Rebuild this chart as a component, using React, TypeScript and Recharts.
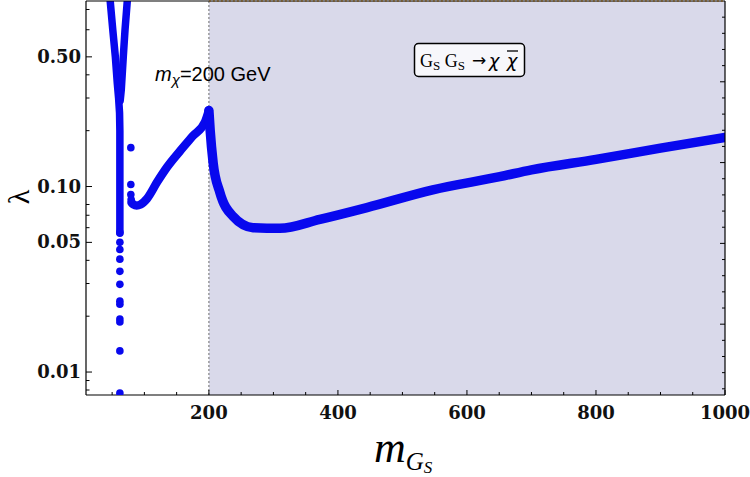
import { ComposedChart, Line, Scatter, XAxis, YAxis, ReferenceArea, ReferenceLine } from 'recharts';

// resonance at m_h/2: left and right arms of the V
const armLeftX = [47, 51, 55, 58, 60, 61.5, 62, 62, 62, 62];
const armLeftL = [1.0, 0.7, 0.5, 0.36, 0.3, 0.25, 0.2, 0.12, 0.08, 0.056];
const armRightX = [73.5, 70, 67.3, 64.2, 62.5];
const armRightL = [1.0, 0.7, 0.5, 0.333, 0.29];

// sparse points below the resonance column
const tailX = [62, 62, 62, 62, 62, 62, 62, 62, 62, 62, 62, 62];
const tailL = [0.0566, 0.05, 0.0458, 0.0406, 0.0349, 0.0297, 0.0241, 0.0232, 0.0193, 0.0186, 0.013, 0.0077];

// isolated points near 78 GeV
const strayX = [79, 79, 79, 79.5];
const strayL = [0.162, 0.1025, 0.0906, 0.085];

// rising branch up to m_chi
const riseX = [80, 83, 88, 94, 104, 120, 135, 155, 175, 194, 200];
const riseL = [0.082, 0.08, 0.079, 0.08, 0.086, 0.106, 0.127, 0.155, 0.187, 0.223, 0.257];

// branch above m_chi (shaded region)
const highX = [200, 202, 206.6, 217, 237.5, 268.5, 310, 372, 445, 547, 651, 700, 800, 900, 1000];
const highL = [0.257, 0.2, 0.134, 0.093, 0.069, 0.06, 0.0595, 0.0665, 0.077, 0.096, 0.113, 0.123, 0.14, 0.161, 0.184];

const xTicks = [50, 100, 150, 200, 250, 300, 350, 400, 450, 500, 550, 600, 650, 700, 750, 800, 850, 900, 950, 1000];
const xMajor = [200, 400, 600, 800, 1000];
const yTicks = [0.008, 0.009, 0.01, 0.02, 0.03, 0.04, 0.05, 0.06, 0.07, 0.08, 0.1, 0.2, 0.3, 0.4, 0.5, 0.7, 0.9];
const yMajor = [0.01, 0.05, 0.1, 0.5];
const yMajorText = ['0.01', '0.05', '0.10', '0.50'];
const rightTicks = [1, 2, 3, 4, 5, 6, 7, 8, 9, 10, 11, 12, 13, 14, 15, 16, 17, 18, 19, 20, 21, 22, 23, 24];
const rightMajor = [5, 10, 15, 20];

const zip = (xs: number[], ls: number[]) => xs.map((x, i) => ({ x, y: ls[i] }));

const BLUE = '#0808ee';
const SHADE = '#d9d9ea';
const TICK_FONT = '"DejaVu Serif", serif';

const PLOT_LEFT = 86;
const PLOT_RIGHT = 725;
const PLOT_TOP = 1;
const PLOT_BOTTOM = 395;

function BottomTick(props: any) {
  const { x, payload } = props;
  const major = xMajor.includes(payload.value);
  return (
    <g>
      <line x1={x} x2={x} y1={PLOT_BOTTOM} y2={PLOT_BOTTOM - (major ? 5 : 3)} stroke="#000" />
      {major && (
        <text x={x} y={PLOT_BOTTOM + 24} textAnchor="middle" fontFamily={TICK_FONT} fontWeight="bold" fontSize={18} fill="#111">
          {payload.value}
        </text>
      )}
    </g>
  );
}

function TopTick(props: any) {
  const { x, payload } = props;
  const major = xMajor.includes(payload.value);
  return <line x1={x} x2={x} y1={PLOT_TOP} y2={PLOT_TOP + (major ? 5 : 3)} stroke="#000" />;
}

function LeftTick(props: any) {
  const { y, payload } = props;
  const idx = yMajor.indexOf(payload.value);
  return (
    <g>
      <line x1={PLOT_LEFT} x2={PLOT_LEFT + (idx >= 0 ? 6 : 3.5)} y1={y} y2={y} stroke="#000" />
      {idx >= 0 && (
        <text x={81} y={y + 6} textAnchor="end" fontFamily={TICK_FONT} fontWeight="bold" fontSize={18} fill="#111">
          {yMajorText[idx]}
        </text>
      )}
    </g>
  );
}

function RightTick(props: any) {
  const { y, payload } = props;
  const major = rightMajor.includes(payload.value);
  return <line x1={PLOT_RIGHT} x2={PLOT_RIGHT - (major ? 5 : 3)} y1={y} y2={y} stroke="#000" />;
}

const dotShape = (p: any) => <circle cx={p.cx} cy={p.cy} r={3.8} fill={BLUE} />;

export default function App() {
  return (
    <div style={{ position: 'absolute', left: 0, top: 0, width: 750, height: 477, background: '#fff' }}>
      <ComposedChart width={750} height={477} margin={{ top: 0, right: 0, bottom: 0, left: 0 }}>
        <XAxis
          xAxisId="b"
          dataKey="x"
          type="number"
          domain={[9.5, 1000]}
          allowDataOverflow
          ticks={xTicks}
          interval={0}
          tick={(p: any) => <BottomTick {...p} />}
          tickLine={false}
          axisLine={{ stroke: '#000', strokeWidth: 1.2 }}
          height={82}
        />
        <XAxis
          xAxisId="t"
          orientation="top"
          type="number"
          domain={[9.5, 1000]}
          allowDataOverflow
          ticks={xTicks}
          interval={0}
          tick={(p: any) => <TopTick {...p} />}
          tickLine={false}
          axisLine={{ stroke: '#000', strokeWidth: 1.2 }}
          height={1}
        />
        <YAxis
          yAxisId="l"
          type="number"
          scale="log"
          domain={[0.00752, 1]}
          allowDataOverflow
          ticks={yTicks}
          interval={0}
          tick={(p: any) => <LeftTick {...p} />}
          tickLine={false}
          axisLine={{ stroke: '#000', strokeWidth: 1.2 }}
          width={86}
        />
        <YAxis
          yAxisId="r"
          orientation="right"
          type="number"
          domain={[0.617, 25]}
          allowDataOverflow
          ticks={rightTicks}
          interval={0}
          tick={(p: any) => <RightTick {...p} />}
          tickLine={false}
          axisLine={{ stroke: '#000', strokeWidth: 1.2 }}
          width={25}
        />
        <ReferenceArea xAxisId="b" yAxisId="l" x1={200} x2={1000} y1={0.00752} y2={1} fill={SHADE} fillOpacity={1} stroke="none" />
        <ReferenceLine xAxisId="b" yAxisId="l" x={200} stroke="#8a8a8a" strokeDasharray="2 2" strokeWidth={1.3} />
        <ReferenceLine
          xAxisId="b"
          yAxisId="l"
          segment={[{ x: 200, y: 1 }, { x: 1000, y: 1 }]}
          stroke="#e6a23a"
          strokeDasharray="2 2"
          strokeWidth={1.5}
        />
        <Line xAxisId="b" yAxisId="l" data={zip(armLeftX, armLeftL)} dataKey="y" type="linear" stroke={BLUE} strokeWidth={7.5} strokeLinecap="round" strokeLinejoin="round" dot={false} isAnimationActive={false} />
        <Line xAxisId="b" yAxisId="l" data={zip(armRightX, armRightL)} dataKey="y" type="linear" stroke={BLUE} strokeWidth={7.5} strokeLinecap="round" strokeLinejoin="round" dot={false} isAnimationActive={false} />
        <Line xAxisId="b" yAxisId="l" data={zip(riseX, riseL)} dataKey="y" type="monotone" stroke={BLUE} strokeWidth={8.5} strokeLinecap="round" dot={false} isAnimationActive={false} />
        <Line xAxisId="b" yAxisId="l" data={zip(highX, highL)} dataKey="y" type="monotone" stroke={BLUE} strokeWidth={9.5} strokeLinecap="round" dot={false} isAnimationActive={false} />
        <Scatter xAxisId="b" yAxisId="l" data={zip(tailX, tailL)} dataKey="y" shape={dotShape} isAnimationActive={false} />
        <Scatter xAxisId="b" yAxisId="l" data={zip(strayX, strayL)} dataKey="y" shape={dotShape} isAnimationActive={false} />
      </ComposedChart>
      <svg width={750} height={477} style={{ position: 'absolute', left: 0, top: 0, pointerEvents: 'none' }}>
        <text x={155} y={81} fontFamily='"Liberation Sans", Arial, sans-serif' fontSize={20} fill="#000">
          <tspan fontStyle="italic">m</tspan>
          <tspan fontStyle="italic" fontSize={15} dy={4}>χ</tspan>
          <tspan dy={-4}>=200 GeV</tspan>
        </text>
        <rect x={414.5} y={43.5} width={110} height={33} rx={4} fill="#f7f7fb" stroke="#000" strokeWidth={1.5} />
        <text x={420} y={67} fontFamily='"Liberation Serif", serif' fontSize={18} fill="#000">
          G<tspan fontSize={13} dy={3}>S</tspan>
          <tspan dy={-3}> G</tspan>
          <tspan fontSize={13} dy={3}>S</tspan>
        </text>
        <text x={479} y={66} textAnchor="middle" fontFamily='"DejaVu Sans", sans-serif' fontSize={17} fill="#000">→</text>
        <text x={494} y={67} textAnchor="middle" fontFamily='"DejaVu Sans", sans-serif' fontStyle="italic" fontSize={18} fill="#000">χ</text>
        <text x={512} y={67} textAnchor="middle" fontFamily='"DejaVu Sans", sans-serif' fontStyle="italic" fontSize={18} fill="#000">χ</text>
        <line x1={507} x2={518} y1={51} y2={51} stroke="#000" strokeWidth={1.3} />
        <text
          x={18}
          y={197}
          transform="rotate(-90 18 197)"
          textAnchor="middle"
          dominantBaseline="central"
          fontFamily='"Liberation Serif", serif'
          fontSize={30}
          fill="#000"
        >
          λ
        </text>
        <text x={374} y={462} fontFamily='"Liberation Serif", serif' fontStyle="italic" fill="#000">
          <tspan fontSize={44}>m</tspan>
          <tspan fontSize={25} dy={8}>G</tspan>
          <tspan fontSize={17} dy={3}>S</tspan>
        </text>
      </svg>
    </div>
  );
}
